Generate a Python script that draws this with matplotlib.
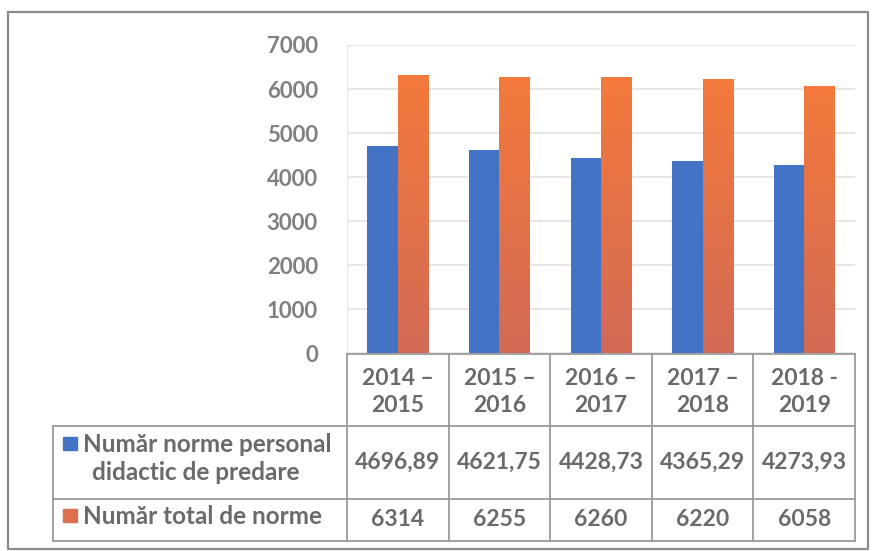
import numpy as np
import matplotlib.pyplot as plt
from matplotlib.colors import LinearSegmentedColormap

years = ["2014 –\n2015", "2015 –\n2016", "2016 –\n2017", "2017 –\n2018", "2018 -\n2019"]
norme_predare = [4696.89, 4621.75, 4428.73, 4365.29, 4273.93]
norme_total = [6314, 6255, 6260, 6220, 6058]
label_predare = ["Număr norme personal", "didactic de predare"]
label_total = "Număr total de norme"
yticks = [0, 1000, 2000, 3000, 4000, 5000, 6000, 7000]

blue = "#4472C4"
orange_top = "#F47A3C"
orange_bot = "#D26A55"
txt = "#6a6a6a"
tick_col = "#808080"
line_col = "#9a9a9a"

plt.rcParams['font.family'] = ['Lato', 'DejaVu Sans']
plt.rcParams['font.weight'] = 'bold'

W, H = 872, 551
fig = plt.figure(figsize=(W / 100, H / 100), dpi=100)

# pixel layout
x_left, x_right = 347, 855
y_top, y_zero = 45, 353

ax = fig.add_axes([x_left / W, 1 - y_zero / H, (x_right - x_left) / W, (y_zero - y_top) / H])
n = len(years)
x = np.arange(n)
bw = 0.3
ax.bar(x - bw / 2, norme_predare, bw, color=blue, zorder=3)

grad = LinearSegmentedColormap.from_list("og", [orange_bot, orange_top])
g = np.linspace(0, 1, 100).reshape(-1, 1)
for xi, v in zip(x, norme_total):
    ax.imshow(g, cmap=grad, origin="lower", aspect="auto",
              extent=(xi, xi + bw, 0, v), zorder=3)

ax.set_xlim(-0.5, n - 0.5)
ax.set_ylim(0, 7000)
ax.set_yticks(yticks)
ax.set_yticklabels([str(t) for t in yticks], fontsize=16, color=tick_col, fontweight='bold')
ax.tick_params(axis='y', length=0, pad=21)
ax.set_xticks([])
ax.grid(axis='y', color="#e3e3e3", linewidth=1.2, zorder=0)
for s in ["top", "left", "right"]:
    ax.spines[s].set_color("#e6e6e6")
ax.spines["right"].set_visible(False)
ax.spines["bottom"].set_visible(False)

# overlay in pixel coordinates for the data table and frame
ov = fig.add_axes([0, 0, 1, 1], zorder=5)
ov.set_xlim(0, W)
ov.set_ylim(H, 0)
ov.axis("off")
ov.patch.set_alpha(0)

# outer frame
ov.plot([8, 868, 868, 8, 8], [12, 12, 549, 549, 12], color="#8c8c8c", lw=1.6)

col_w = (x_right - x_left) / n
cols = [x_left + i * col_w for i in range(n + 1)]
r0, r1, r2, r3 = 354, 426, 499, 541
tab_left = 53

ov.plot([x_left, x_right], [r0, r0], color=line_col, lw=1.3)
for yy in (r1, r2, r3):
    ov.plot([tab_left, x_right], [yy, yy], color=line_col, lw=1.3)
for cx in cols:
    ov.plot([cx, cx], [r0, r3], color=line_col, lw=1.3)
ov.plot([tab_left, tab_left], [r1, r3], color=line_col, lw=1.3)

for i in range(n):
    cx = (cols[i] + cols[i + 1]) / 2
    ov.text(cx, (r0 + r1) / 2 + 2, years[i], ha="center", va="center",
            fontsize=16.5, color=txt, fontweight='bold', linespacing=1.4)
    ov.text(cx, (r1 + r2) / 2, f"{norme_predare[i]:.2f}".replace(".", ","),
            ha="center", va="center", fontsize=16.5, color=txt, fontweight='bold')
    ov.text(cx, (r2 + r3) / 2, str(norme_total[i]), ha="center", va="center",
            fontsize=16.5, color=txt, fontweight='bold')

# legend keys in the row headers
ov.add_patch(plt.Rectangle((63, 437), 14, 13, color=blue))
ov.text(83, 444, label_predare[0], ha="left", va="center",
        fontsize=17.5, color=txt, fontweight='bold')
ov.text(196, 472, label_predare[1], ha="center", va="center",
        fontsize=17.5, color=txt, fontweight='bold')
ov.add_patch(plt.Rectangle((63, 509), 14, 13, color="#DD7050"))
ov.text(83, 517, label_total, ha="left", va="center",
        fontsize=17.5, color=txt, fontweight='bold')

fig.savefig("out.png", dpi=100)
